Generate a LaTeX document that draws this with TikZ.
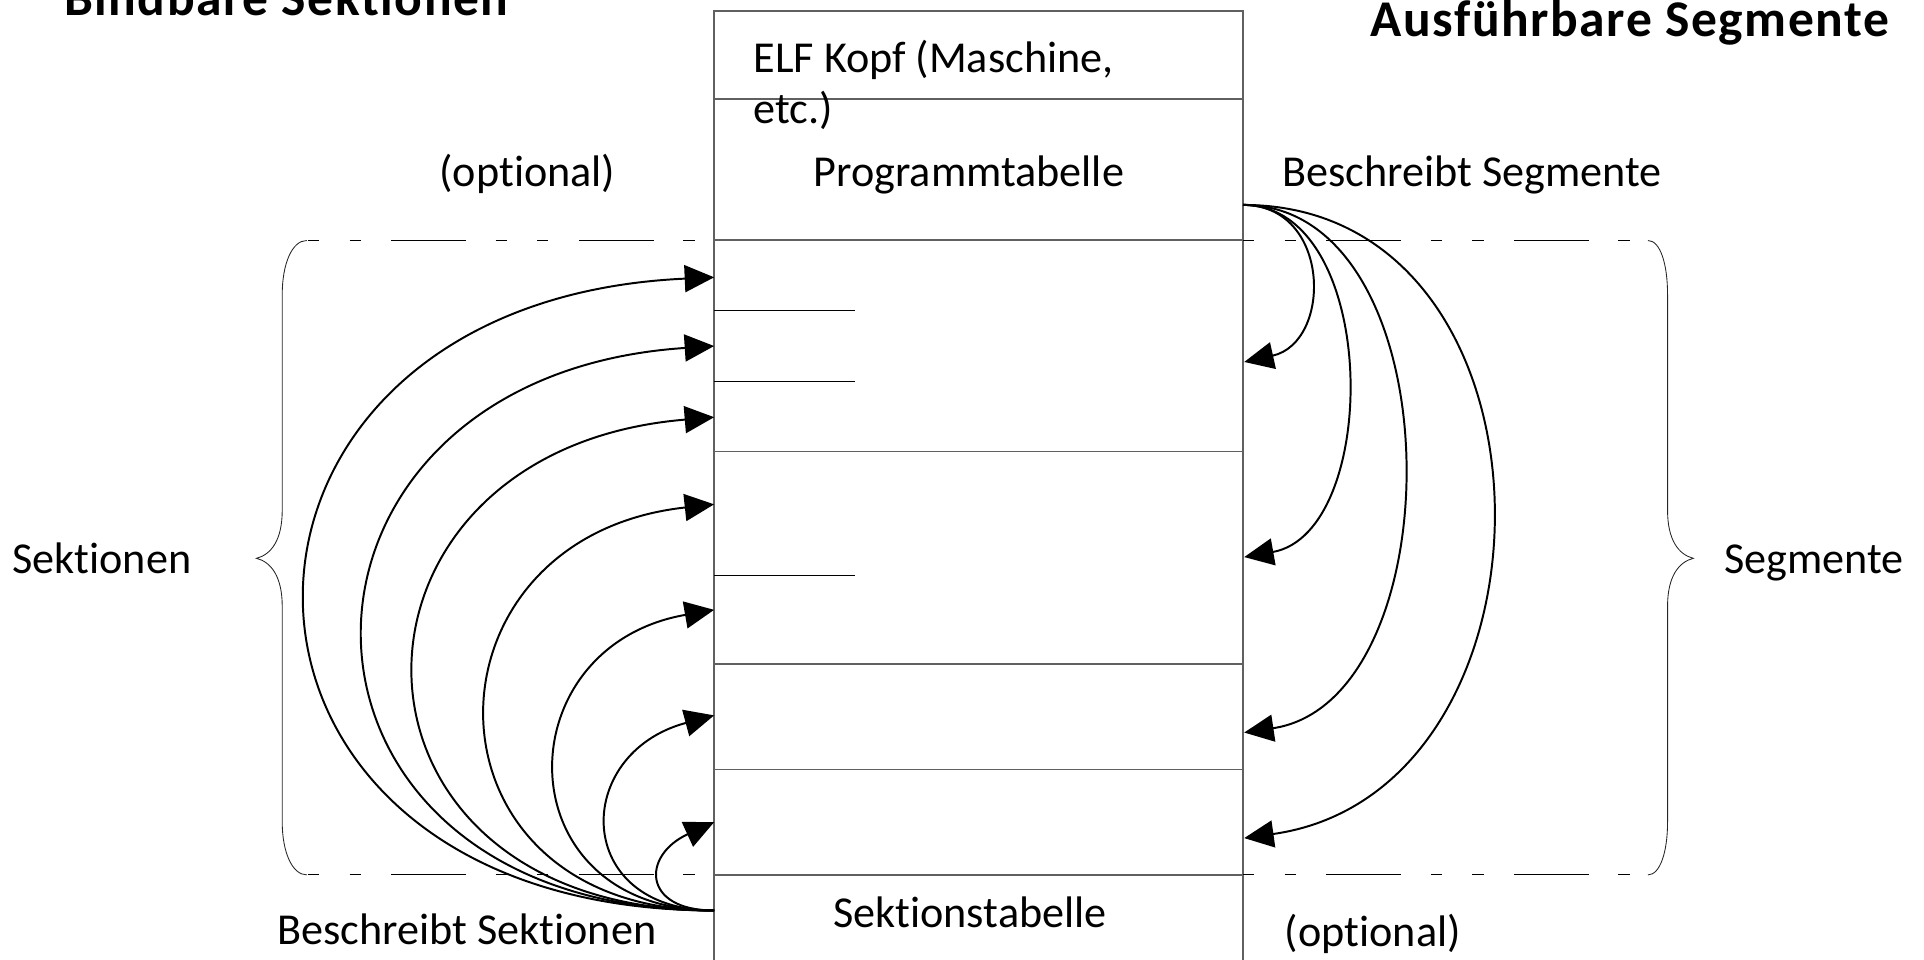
\documentclass[tikz,border=0pt]{standalone}
\usepackage{fontspec}
\setmainfont{Carlito}[Ligatures=NoCommon]
\newfontfamily\ttlfont{Carlito}[Ligatures=NoCommon, LetterSpace=3]
\usetikzlibrary{arrows.meta,calc}
\definecolor{boxgray}{RGB}{96,96,96}

\begin{document}
\begin{tikzpicture}[x=1pt,y=-1pt,
  lbl/.style={inner sep=0pt, anchor=base west, font=\fontsize{36}{42}\selectfont},
  ttl/.style={inner sep=0pt, anchor=base west, font=\ttlfont\bfseries\fontsize{42}{50}\selectfont},
  frame/.style={draw=boxgray, line width=1.1pt},
  sub/.style={draw=black, line width=0.9pt},
  guide/.style={draw=black, line width=0.9pt, dash pattern=on 9pt off 25pt on 9pt off 25pt on 61pt off 24pt},
  brace/.style={draw=black!85, line width=0.7pt},
  ref/.style={draw=black, line width=1.6pt, -{Triangle[length=24pt,width=22pt]}}
]
\useasboundingbox (0,0) rectangle (1568,782);

% file layout column
\draw[frame] (582,790) -- (582,9) -- (1013,9) -- (1013,790);
\foreach \y in {80.7,195.6,368,541,627,713}
  \draw[frame] (582,\y) -- (1013,\y);
\foreach \y in {253,311,469}
  \draw[sub] (582,\y) -- (697,\y);

% headings
\node[ttl] (tLink) at (52,13) {Bindbare Sektionen};
\node[ttl] (tExec) at (1117,29.5) {Ausführbare Segmente};

% labels inside the column
\node[lbl] (hdr1) at (614,59) {ELF Kopf (Maschine,};
\node[lbl] (hdr2) at (614,101) {etc.)};
\node[lbl] (prog) at (663,152) {Programmtabelle};
\node[lbl] (sect) at (679,756) {Sektionstabelle};

% labels beside the column
\node[lbl] (optL) at (358,152) {(optional)};
\node[lbl] (descSeg) at (1045,152) {Beschreibt Segmente};
\node[lbl] (sekt) at (10,467) {Sektionen};
\node[lbl] (segm) at (1405,467) {Segmente};
\node[lbl] (descSek) at (226,770) {Beschreibt Sektionen};
\node[lbl] (optR) at (1047,771) {(optional)};

% brace ends
\coordinate (lbT) at (250,196);
\coordinate (lbB) at (250,713);
\coordinate (rbT) at (1343,196);
\coordinate (rbB) at (1343,713);
\coordinate (colLT) at (582,196);
\coordinate (colLB) at (582,713);
\coordinate (colRT) at (1013,196);
\coordinate (colRB) at (1013,713);

% dashed guide lines
\draw[guide] ($(lbT)+(1,0)$) -- (colLT);
\draw[guide] ($(lbB)+(1,0)$) -- (colLB);
\draw[guide] (colRT) -- (rbT);
\draw[guide] (colRB) -- (rbB);

% braces
\draw[brace] (lbT) .. controls (238,196) and (230,215) .. (230,240)
  -- (230,416) .. controls (230,440) and (221,452) .. (209,455)
  .. controls (221,458) and (230,470) .. (230,494)
  -- (230,670) .. controls (230,694) and (238,713) .. (lbB);
\draw[brace] (rbT) .. controls (1353,196) and (1359,215) .. (1359,240)
  -- (1359,416) .. controls (1359,440) and (1368,452) .. (1380,455)
  .. controls (1368,458) and (1359,470) .. (1359,494)
  -- (1359,670) .. controls (1359,694) and (1353,713) .. (rbB);

% section header table references
\coordinate (sS) at (582,742);
\foreach \y/\a/\k [count=\i] in {226/443/20, 282/380/25, 340/325/27, 411/247/27, 497/172/30, 583/116/31, 670/59/27} {
  \coordinate (sE\i) at (582,\y);
  \draw[ref] (sS) .. controls +(-\a,0) and +(-\a,\k) .. (sE\i);
}

% program header table references
\coordinate (pS) at (1013,167);
\foreach \y/\a/\k [count=\i] in {295/72/16, 454/112/20, 597/173/26, 683/269/38} {
  \coordinate (pE\i) at (1014,\y);
  \draw[ref] (pS) .. controls +(\a,0) and +(\a,-\k) .. (pE\i);
}
\end{tikzpicture}
\end{document}
